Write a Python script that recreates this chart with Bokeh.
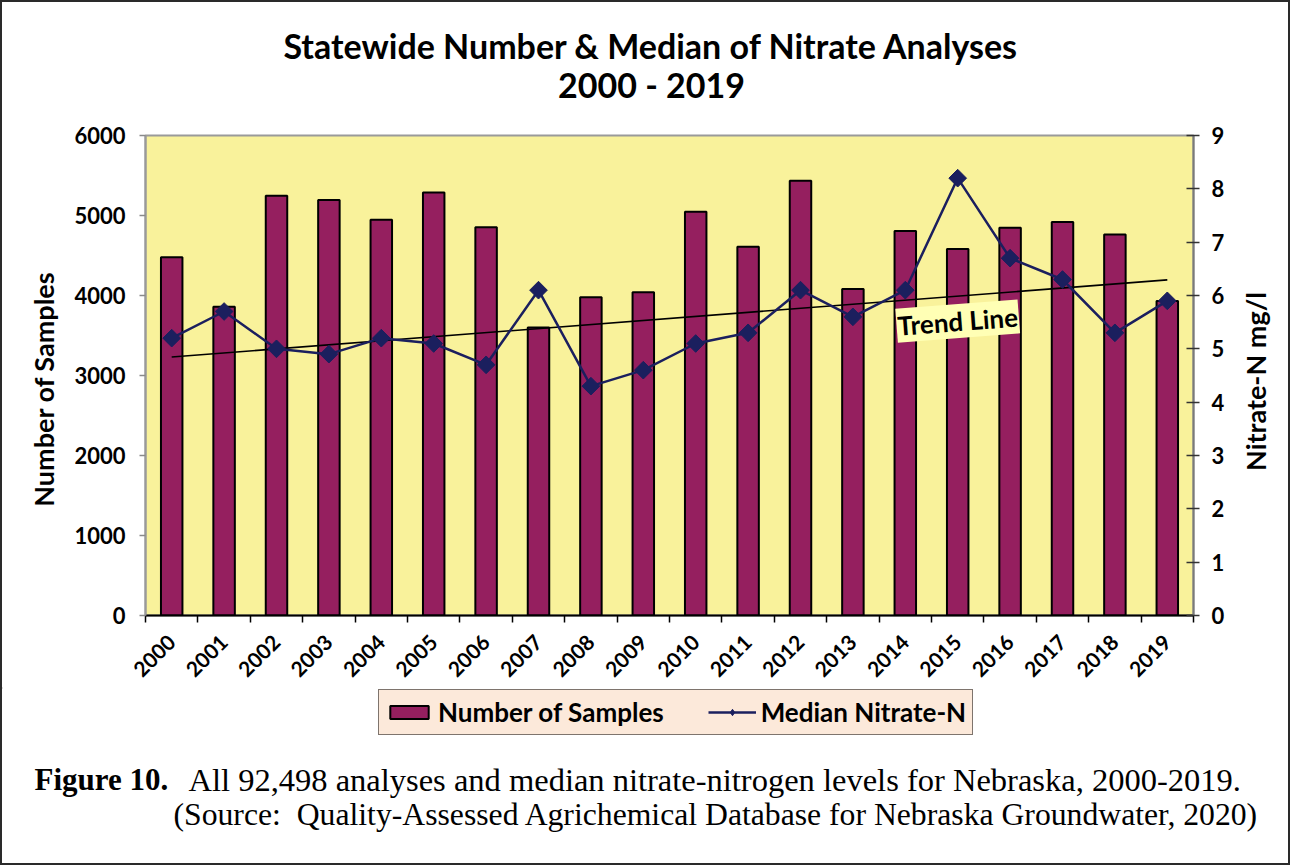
import numpy as np
from bokeh.plotting import figure
from bokeh.layouts import column, row
from bokeh.models import Range1d, LinearAxis, FixedTicker, Label, Legend, LegendItem
from bokeh.embed import file_html
from bokeh.resources import INLINE

# ---------------- data ----------------
years = list(range(2000, 2020))
samples = [4477, 3860, 5247, 5193, 4948, 5288, 4852, 3600, 3978, 4040,
           5047, 4610, 5434, 4080, 4806, 4582, 4848, 4918, 4764, 3930]
median_n = [5.2, 5.7, 5.0, 4.9, 5.2, 5.1, 4.7, 6.1, 4.3, 4.6,
            5.1, 5.3, 6.1, 5.6, 6.1, 8.2, 6.7, 6.3, 5.3, 5.9]
left_ticks = [0, 1000, 2000, 3000, 4000, 5000, 6000]
right_ticks = [0, 1, 2, 3, 4, 5, 6, 7, 8, 9]
title_lines = ["Statewide Number & Median of Nitrate Analyses", "2000 - 2019"]
series_names = ["Number of Samples", "Median Nitrate-N"]
left_label = "Number of Samples"
right_label = "Nitrate-N mg/l"
trend_text = "Trend Line"
caption_bold = "Figure 10."
caption_1 = "All 92,498 analyses and median nitrate-nitrogen levels for Nebraska, 2000-2019."
caption_2 = "(Source:\u00a0\u00a0Quality-Assessed Agrichemical Database for Nebraska Groundwater, 2020)"

# ---------------- styles ----------------
BAR = "#951F5F"
NAVY = "#1B1F5E"
BG = "#F9F29B"
LEG_BG = "#FCE9DA"
SANS = "Lato"
SERIF = "Liberation Serif"

W = 1286            # inner width
H_HEAD = 112
OFF = 2             # border width -> page offset of children
FOOT_TOP = 687
H_MAIN = FOOT_TOP - OFF - H_HEAD
H_FOOT = 176
W_LEFT = 62         # panel holding the left axis title
W_RIGHT = 58        # panel holding the right axis title
W_MAIN = W - W_LEFT - W_RIGHT
FIX = 13            # measured vertical offset of text panels (alphabetic baseline)
FIX_ROT = -4        # measured vertical offset for rotated, middle-anchored text


def strip_title(f):
    try:
        f.title = None
    except Exception:
        f.title.visible = False
    try:
        f.frame_align = False
    except Exception:
        pass


def text_panel(w, h):
    f = figure(width=w, height=h, output_backend="svg", toolbar_location=None,
               x_range=Range1d(0, w), y_range=Range1d(h, 0),
               x_axis_type=None, y_axis_type=None,
               min_border_left=0, min_border_right=0, min_border_top=0, min_border_bottom=0,
               background_fill_color="white", border_fill_color="white")
    strip_title(f)
    f.outline_line_color = None
    f.xgrid.visible = False
    f.ygrid.visible = False
    return f


# ---------------- header (title) ----------------
head = text_panel(W, H_HEAD)
for txt, by in zip(title_lines, [58, 97]):
    head.add_layout(Label(x=651 - OFF, y=by - OFF - FIX, text=txt, text_align="center",
                          text_baseline="alphabetic", text_font=SANS,
                          text_font_style="bold", text_font_size="34px",
                          text_color="black"))

# ---------------- main chart ----------------
top_main = OFF + H_HEAD
left_main = OFF + W_LEFT
FX0, FX1, FY0, FY1 = 145.3, 1192.7, 135.0, 615.0
mb_left = int(round(FX0 - left_main))
mb_right = int(round(W_MAIN - (FX1 - left_main)))
mb_top = int(round(FY0 - top_main))
mb_bottom = H_MAIN - mb_top - int(round(FY1 - FY0))

p = figure(width=W_MAIN, height=H_MAIN, output_backend="svg", toolbar_location=None,
           x_range=Range1d(1999.5, 2019.5), y_range=Range1d(0, 6000),
           min_border_left=mb_left, min_border_right=mb_right,
           min_border_top=mb_top, min_border_bottom=mb_bottom,
           background_fill_color=BG, border_fill_color="white")
strip_title(p)
p.extra_y_ranges = {"right": Range1d(0, 9)}
p.xgrid.visible = False
p.ygrid.visible = False
p.outline_line_color = "#9a9a9a"
p.outline_line_width = 2

bars = p.vbar(x=years, top=samples, width=0.41, fill_color=BAR,
              line_color="black", line_width=2)

coef = np.polyfit(np.array(years, dtype=float), np.array(median_n), 1)
trend_y = list(np.polyval(coef, np.array([years[0], years[-1]], dtype=float)))
p.line(x=[years[0], years[-1]], y=trend_y, y_range_name="right",
       line_color="black", line_width=1.6)

p.line(x=years, y=median_n, y_range_name="right", line_color=NAVY, line_width=2.5)
p.scatter(x=years, y=median_n, y_range_name="right", marker="square",
          angle=np.pi / 4, size=12.5, fill_color=NAVY, line_color=NAVY)

xa = p.xaxis[0]
xa.ticker = FixedTicker(ticks=years, minor_ticks=[y - 0.5 for y in years] + [years[-1] + 0.5])
xa.major_tick_out = 0
xa.major_tick_in = 0
xa.minor_tick_out = 7
xa.minor_tick_in = 0
xa.minor_tick_line_color = "black"
xa.minor_tick_line_width = 1.5
xa.axis_line_color = "black"
xa.axis_line_width = 2
xa.major_label_orientation = np.pi / 4
xa.major_label_standoff = 16
xa.major_label_text_font = SANS
xa.major_label_text_font_style = "bold"
xa.major_label_text_font_size = "21px"
xa.major_label_text_color = "black"

ya = p.yaxis[0]
ya.ticker = FixedTicker(ticks=left_ticks)
ya.axis_line_color = "#9a9a9a"
ya.axis_line_width = 2
ya.major_tick_line_color = "#8a8a8a"
ya.major_tick_line_width = 1.5
ya.major_tick_out = 6
ya.major_tick_in = 0
ya.minor_tick_line_color = None
ya.major_label_standoff = 14
ya.major_label_text_font = SANS
ya.major_label_text_font_style = "bold"
ya.major_label_text_font_size = "22px"
ya.major_label_text_color = "black"

ra = LinearAxis(y_range_name="right", ticker=FixedTicker(ticks=right_ticks))
ra.axis_line_color = "#7a7a7a"
ra.axis_line_width = 2
ra.major_tick_line_color = "#333333"
ra.major_tick_line_width = 1.5
ra.major_tick_out = 6
ra.major_tick_in = 7
ra.minor_tick_line_color = None
ra.major_label_standoff = 12
ra.major_label_text_font = SANS
ra.major_label_text_font_style = "bold"
ra.major_label_text_font_size = "22px"
ra.major_label_text_color = "black"
p.add_layout(ra, "right")

p.add_layout(Label(x=2015.0, y=5.52, y_range_name="right", text=trend_text,
                   text_align="center", text_baseline="middle", angle=0.077,
                   text_font=SANS, text_font_style="bold", text_font_size="26px",
                   text_color="black", background_fill_color="#FFFFB5",
                   padding=1))

# axis titles (both read bottom-to-top)
lpanel = text_panel(W_LEFT, H_MAIN)
lpanel.add_layout(Label(x=43 - OFF, y=384.5 - top_main - FIX_ROT,
                        text=left_label, angle=np.pi / 2, text_align="center",
                        text_baseline="middle", text_font=SANS, text_font_style="bold",
                        text_font_size="27px", text_color="black"))
rpanel = text_panel(W_RIGHT, H_MAIN)
rpanel.add_layout(Label(x=1254.5 - (left_main + W_MAIN), y=377 - top_main - FIX_ROT,
                        text=right_label, angle=np.pi / 2, text_align="center",
                        text_baseline="middle", text_font=SANS, text_font_style="bold",
                        text_font_size="27px", text_color="black"))

# ---------------- footer (legend + caption) ----------------
foot = text_panel(W, H_FOOT)
# off-canvas stand-ins that only style the legend glyphs
lg_bar = foot.vbar(x=[-500], top=[-500], width=0.4, fill_color=BAR,
                   line_color="black", line_width=2)
lg_line = foot.line(x=[-500, -400], y=[-500, -500], line_color=NAVY, line_width=2.5)
lg_mark = foot.scatter(x=[-500], y=[-500], marker="diamond", size=12,
                       fill_color=NAVY, line_color=NAVY)
legend = Legend(items=[LegendItem(label=series_names[0], renderers=[lg_bar]),
                       LegendItem(label=series_names[1], renderers=[lg_line, lg_mark])],
                orientation="horizontal",
                location=(378 - OFF, H_FOOT - (735 - FOOT_TOP)),
                background_fill_color=LEG_BG, background_fill_alpha=1,
                border_line_color="black", border_line_width=1.5,
                glyph_width=48, glyph_height=16, label_standoff=5,
                spacing=44, padding=6, margin=0,
                label_text_font=SANS, label_text_font_style="bold",
                label_text_font_size="26px", label_text_color="black",
                label_height=20)
foot.add_layout(legend, "center")

foot.add_layout(Label(x=34 - OFF, y=792 - FOOT_TOP - FIX, text=caption_bold, text_font=SERIF,
                      text_font_style="bold", text_font_size="31px",
                      text_baseline="alphabetic", text_color="black"))
foot.add_layout(Label(x=188 - OFF, y=792 - FOOT_TOP - FIX, text=caption_1, text_font=SERIF,
                      text_font_size="32.5px", text_baseline="alphabetic",
                      text_color="black"))
foot.add_layout(Label(x=173 - OFF, y=827 - FOOT_TOP - FIX, text=caption_2, text_font=SERIF,
                      text_font_size="31.7px", text_baseline="alphabetic",
                      text_color="black"))

layout = column(head, row(lpanel, p, rpanel, spacing=0), foot, spacing=0,
                styles={"border": "2px solid #2a2a2a"})

open("out.html", "w").write(file_html(layout, INLINE))
